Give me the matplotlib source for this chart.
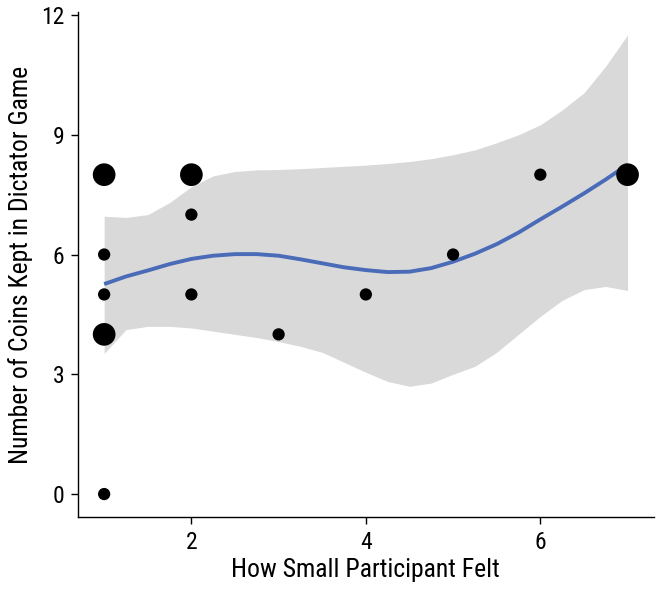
import matplotlib
matplotlib.use("Agg")
from matplotlib import pyplot as plt

plt.rcParams['font.family'] = ['Roboto Condensed', 'Liberation Sans', 'DejaVu Sans']

# Observed points (x, y) and how many participants share each point
pointX = [1, 1, 1, 1, 1, 2, 2, 2, 3, 4, 5, 6, 7]
pointY = [8, 6, 5, 4, 0, 8, 7, 5, 4, 5, 6, 8, 8]
pointCount = [2, 1, 1, 2, 1, 2, 1, 1, 1, 1, 1, 1, 2]

# Smoothed fit and its confidence band
fitX = [1.0, 1.25, 1.5, 1.75, 2.0, 2.25, 2.5, 2.75, 3.0, 3.25, 3.5, 3.75, 4.0,
        4.25, 4.5, 4.75, 5.0, 5.25, 5.5, 5.75, 6.0, 6.25, 6.5, 6.75, 7.0]
fitY = [5.26, 5.45, 5.6, 5.76, 5.89, 5.97, 6.01, 6.01, 5.97, 5.88, 5.78, 5.68, 5.61,
        5.56, 5.57, 5.66, 5.82, 6.02, 6.26, 6.55, 6.88, 7.2, 7.53, 7.88, 8.25]
bandUpper = [6.96, 6.93, 7.0, 7.3, 7.7, 7.97, 8.08, 8.12, 8.13, 8.15, 8.18, 8.21, 8.24,
             8.28, 8.33, 8.4, 8.5, 8.62, 8.8, 9.0, 9.25, 9.62, 10.05, 10.72, 11.5]
bandLower = [3.52, 4.12, 4.2, 4.2, 4.16, 4.08, 4.0, 3.92, 3.82, 3.7, 3.55, 3.3, 3.05,
             2.82, 2.7, 2.78, 3.0, 3.2, 3.55, 4.0, 4.45, 4.85, 5.12, 5.2, 5.1]

xTicks = [2, 4, 6]
yTicks = [0, 3, 6, 9, 12]

fig = plt.figure(figsize=(6.58, 5.91), dpi=100)
ax = fig.add_axes([0.1185, 0.1252, 0.875, 0.8545])

ax.fill_between(fitX, bandLower, bandUpper, color='#d9d9d9', linewidth=0, zorder=1)
ax.plot(fitX, fitY, color='#4a6bb8', linewidth=2.8, solid_capstyle='butt', zorder=2)

sizes = [78 if c == 1 else 267 for c in pointCount]
ax.scatter(pointX, pointY, s=sizes, color='black', linewidths=0, zorder=3)

ax.set_xlim(0.7, 7.3)
ax.set_ylim(-0.575, 12.075)
ax.set_xticks(xTicks)
ax.set_yticks(yTicks)
ax.tick_params(labelsize=17, length=5, width=1, colors='black', pad=5)

for side in ['top', 'right']:
    ax.spines[side].set_visible(False)
for side in ['left', 'bottom']:
    ax.spines[side].set_linewidth(1)

ax.set_xlabel('How Small Participant Felt', fontsize=18.5, labelpad=3)
ax.set_ylabel('Number of Coins Kept in Dictator Game', fontsize=18.5, labelpad=6)

fig.savefig('out.png', dpi=100)
